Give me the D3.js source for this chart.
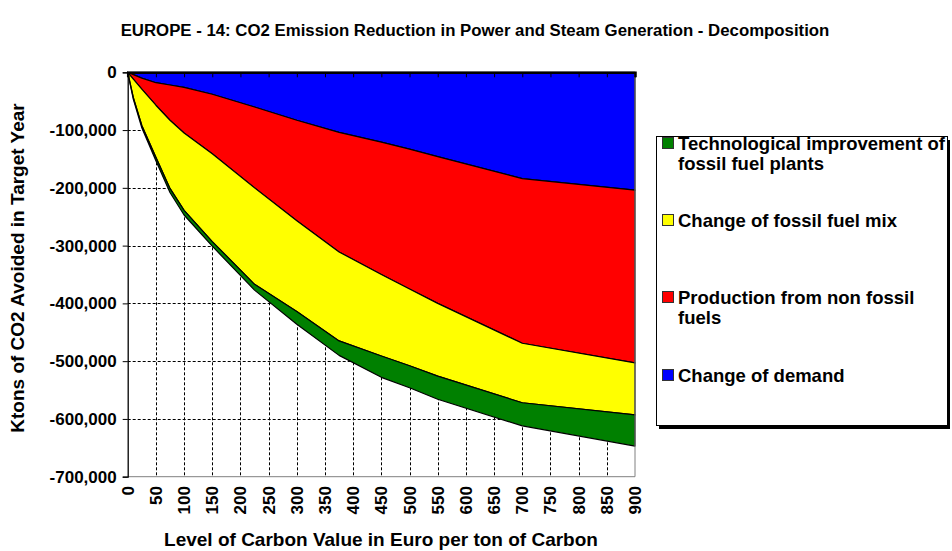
<!DOCTYPE html>
<html>
<head>
<meta charset="utf-8">
<script src="https://cdn.jsdelivr.net/npm/d3@7"></script>
<style>
body { margin: 0; background: #fff; }
text { font-family: "Liberation Sans", Arial, sans-serif; font-weight: bold; fill: #000; }
</style>
</head>
<body>
<script>
// carbon value levels (Euro per ton of Carbon)
var carbonValue = [0, 10, 25, 50, 75, 100, 150, 225, 300, 375, 450, 500, 550, 700, 900];

// ktons of CO2 avoided, by component
var changeOfDemand = [0, -4000, -10000, -18000, -22000, -26000, -38000, -60000, -83000, -104000, -121000, -133000, -146000, -184000, -204000];
var nonFossil = [0, -8000, -19000, -39000, -61000, -79000, -103000, -140000, -174000, -207000, -229000, -242000, -254000, -285000, -299000];
var fossilMix = [0, -32000, -63000, -90000, -118000, -134000, -152000, -167000, -157000, -154000, -141000, -133000, -126000, -103000, -90000];
var techImprovement = [0, -3000, -4000, -6000, -7000, -8000, -8000, -10000, -22000, -25000, -37000, -38000, -40000, -40000, -54000];

var seriesKeys = ["demand", "nonFossil", "mix", "tech"];
var seriesNames = {
	tech: ["Technological improvement of", "fossil fuel plants"],
	mix: ["Change of fossil fuel mix"],
	nonFossil: ["Production from non fossil", "fuels"],
	demand: ["Change of demand"]
};
var seriesColors = { demand: "#0000ff", nonFossil: "#ff0000", mix: "#ffff00", tech: "#008000" };
var legendOrder = ["tech", "mix", "nonFossil", "demand"];

var xTicks = d3.range(0, 901, 50);
var yTicks = d3.range(0, -700001, -100000);

var width = 952, height = 551;
var plotLeft = 127.7, plotRight = 635, plotTop = 72.3, plotBottom = 476.7;

var rows = carbonValue.map(function(c, i) {
	return { x: c, demand: changeOfDemand[i], nonFossil: nonFossil[i], mix: fossilMix[i], tech: techImprovement[i] };
});

var svg = d3.select("body").append("svg")
	.attr("width", width)
	.attr("height", height);

var x = d3.scaleLinear().domain([0, 900]).range([plotLeft, plotRight]);
var y = d3.scaleLinear().domain([-700000, 0]).range([plotBottom, plotTop]);

// plain hyphen for negative numbers, like the original
var fmt = d3.formatLocale({ decimal: ".", thousands: ",", grouping: [3], currency: ["", ""], minus: "-" }).format(",");

// title
svg.append("text")
	.attr("x", 475)
	.attr("y", 36)
	.attr("text-anchor", "middle")
	.style("font-size", "16.8px")
	.text("EUROPE - 14: CO2 Emission Reduction in Power and Steam Generation - Decomposition");

// gridlines
svg.append("g")
	.selectAll("line")
	.data(yTicks.slice(1, -1))
	.enter().append("line")
	.attr("x1", plotLeft).attr("x2", plotRight)
	.attr("y1", function(d) { return Math.round(y(d)) + 0.5; })
	.attr("y2", function(d) { return Math.round(y(d)) + 0.5; })
	.attr("stroke", "#000")
	.attr("stroke-dasharray", "3,2");

svg.append("g")
	.selectAll("line")
	.data(xTicks.slice(1, -1))
	.enter().append("line")
	.attr("x1", function(d) { return Math.round(x(d)) + 0.5; })
	.attr("x2", function(d) { return Math.round(x(d)) + 0.5; })
	.attr("y1", plotTop).attr("y2", plotBottom)
	.attr("stroke", "#000")
	.attr("stroke-dasharray", "3,2");

// stacked areas
var stack = d3.stack().keys(seriesKeys).offset(d3.stackOffsetDiverging);
var layers = stack(rows);

var area = d3.area()
	.x(function(d) { return x(d.data.x); })
	.y0(function(d) { return y(d[0]); })
	.y1(function(d) { return y(d[1]); });

svg.append("g")
	.selectAll("path")
	.data(layers)
	.enter().append("path")
	.attr("d", area)
	.attr("fill", function(d) { return seriesColors[d.key]; })
	.attr("stroke", "#000")
	.attr("stroke-width", 1.2)
	.attr("stroke-linejoin", "round");

// plot border (right, bottom)
svg.append("path")
	.attr("d", "M" + plotRight + "," + plotTop + "V" + plotBottom + "H" + plotLeft)
	.attr("fill", "none")
	.attr("stroke", "#808080")
	.attr("stroke-width", 1);

// y axis
var yAxis = svg.append("g")
	.attr("transform", "translate(" + plotLeft + ",0)")
	.call(d3.axisLeft(y).tickValues(yTicks).tickFormat(fmt).tickSize(5).tickPadding(6));
yAxis.select(".domain").attr("stroke", "#000").attr("stroke-width", 1.3);
yAxis.selectAll("text").style("font-size", "17px").attr("font-family", null);

// x axis at zero (top), ticks pointing into the plot
var xAxis = svg.append("g")
	.attr("transform", "translate(0," + plotTop + ")")
	.call(d3.axisBottom(x).tickValues(xTicks).tickSize(5).tickFormat(""));
xAxis.select(".domain").attr("stroke", "#000").attr("stroke-width", 2.5);

// x tick labels at the bottom
svg.append("g")
	.selectAll("text")
	.data(xTicks)
	.enter().append("text")
	.attr("transform", function(d) { return "translate(" + (x(d) + 6) + "," + 486 + ") rotate(-90)"; })
	.attr("text-anchor", "end")
	.style("font-size", "17px")
	.text(function(d) { return d; });

// axis titles
svg.append("text")
	.attr("x", 381)
	.attr("y", 546)
	.attr("text-anchor", "middle")
	.style("font-size", "19px")
	.text("Level of Carbon Value in Euro per ton of Carbon");

svg.append("text")
	.attr("transform", "translate(24,268) rotate(-90)")
	.attr("text-anchor", "middle")
	.style("font-size", "19px")
	.text("Ktons of CO2 Avoided in Target Year");

// legend
var legend = svg.append("g");
legend.append("rect")
	.attr("x", 659).attr("y", 140)
	.attr("width", 291).attr("height", 289)
	.attr("fill", "#000");
legend.append("rect")
	.attr("x", 656.5).attr("y", 136.5)
	.attr("width", 291).attr("height", 289)
	.attr("fill", "#fff")
	.attr("stroke", "#000");

var legendY = [143, 220, 297, 375];
legendOrder.forEach(function(key, i) {
	legend.append("rect")
		.attr("x", 662.5).attr("y", legendY[i] - 5.5)
		.attr("width", 11).attr("height", 11)
		.attr("fill", seriesColors[key])
		.attr("stroke", "#333");
	seriesNames[key].forEach(function(line, j) {
		legend.append("text")
			.attr("x", 678)
			.attr("y", legendY[i] + 6.5 + j * 20.5)
			.style("font-size", "18.5px")
			.text(line);
	});
});
</script>
</body>
</html>
